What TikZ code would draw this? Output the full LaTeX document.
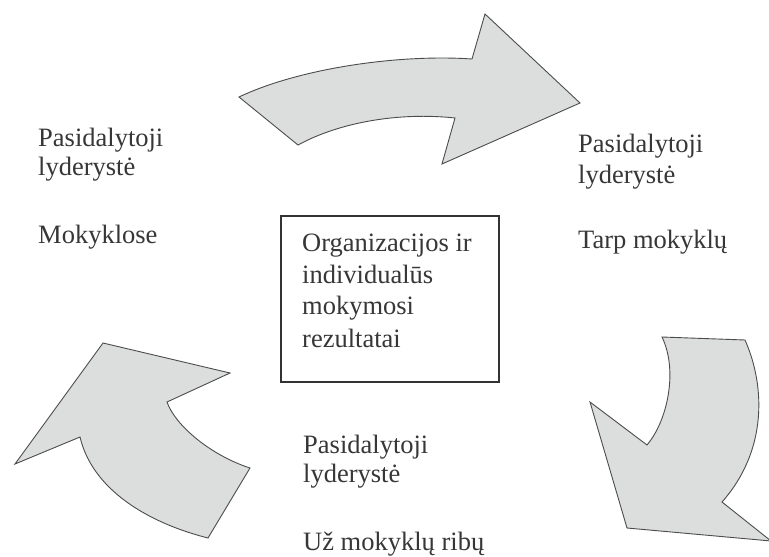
\documentclass[tikz,border=0pt]{standalone}
\usepackage{fontspec}
\setmainfont{Liberation Serif}
\begin{document}
\begin{tikzpicture}[x=1pt,y=-1pt,
  bigarrow/.style={fill=arrowfill,draw=black!70,line width=0.9pt,line join=miter},
  label/.style={anchor=base west,inner sep=0pt,text=txt,
    font=\fontsize{26.5}{29}\selectfont},
  centerbox/.style={draw=black!80,line width=1.1pt}]
\definecolor{arrowfill}{RGB}{220,222,222}
\definecolor{txt}{RGB}{55,55,55}
\useasboundingbox (0,0) rectangle (769,557);
\fill[white] (0,0) rectangle (769,557);

% upper arrow, pointing right
\draw[bigarrow] (239,97) .. controls (300,68) and (400,54) .. (472,59)
  -- (485,14) -- (580,103) -- (442,164) -- (455,118)
  .. controls (400,112) and (340,122) .. (298,145) -- cycle;

% right arrow, pointing down-left
\draw[bigarrow] (662,337) -- (745,340)
  .. controls (765,385) and (768,450) .. (722,502)
  -- (771,541) -- (627,528) -- (590,402) -- (647,445)
  .. controls (668,420) and (678,370) .. cycle;

% left arrow, pointing up-left
\draw[bigarrow] (103,343) -- (230,373) -- (167,402)
  .. controls (175,425) and (210,455) .. (250,468)
  -- (208,538) .. controls (145,522) and (92,488) .. (80,437)
  -- (15,464) -- cycle;

% central box
\draw[centerbox] (281,216) rectangle (499,382);
\node[label] (c1) at (302,251) {Organizacijos ir};
\node[label] (c2) at (302,283) {individualūs};
\node[label] (c3) at (302,314) {mokymosi};
\node[label] (c4) at (302,347) {rezultatai};

% left block
\node[label] (l1) at (38,146) {Pasidalytoji};
\node[label] (l2) at (38,175) {lyderystė};
\node[label] (l3) at (38,243) {Mokyklose};

% right block
\node[label] (r1) at (578,152) {Pasidalytoji};
\node[label] (r2) at (578,183) {lyderystė};
\node[label] (r3) at (578,248) {Tarp mokyklų};

% bottom block
\node[label] (b1) at (303,453) {Pasidalytoji};
\node[label] (b2) at (303,482) {lyderystė};
\node[label] (b3) at (303,550) {Už mokyklų ribų};
\end{tikzpicture}
\end{document}
